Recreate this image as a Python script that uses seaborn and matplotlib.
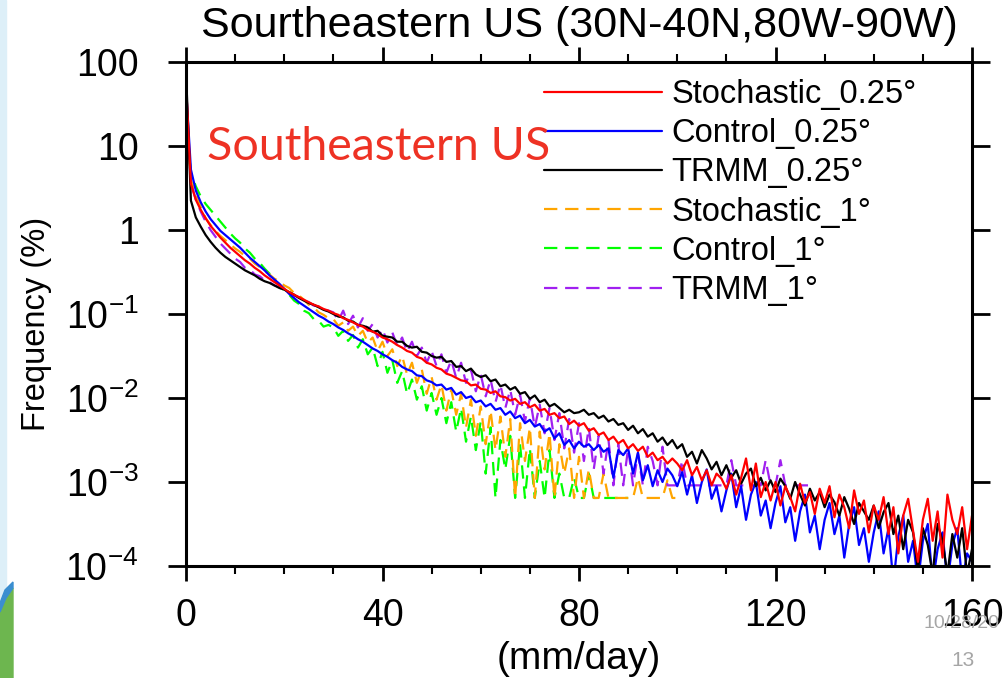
import numpy as np
import pandas as pd
import matplotlib
matplotlib.use("Agg")
import matplotlib.pyplot as plt
from matplotlib.patches import Rectangle, Polygon
from matplotlib.ticker import FixedLocator, FixedFormatter, MultipleLocator, NullLocator
import seaborn as sns

# ---------------------------------------------------------------------------
# Precipitation-rate frequency distributions, Southeastern US.
# Values are log10(frequency in %) for 1 mm/day bins starting at 0 mm/day.
# ---------------------------------------------------------------------------
stoch_025_log = [
    1.75, 0.55, 0.36, 0.24, 0.14, 0.05, -0.02, -0.09, -0.15, -0.21,
    -0.26, -0.31, -0.36, -0.40, -0.45, -0.49, -0.54, -0.58, -0.62, -0.66,
    -0.70, -0.74, -0.77, -0.80, -0.83, -0.86, -0.89, -0.91, -0.94, -0.96,
    -0.99, -1.01, -1.05, -1.07, -1.10, -1.13, -1.15, -1.19, -1.21, -1.24,
    -1.28, -1.30, -1.33, -1.37, -1.40, -1.44, -1.46, -1.51, -1.53, -1.58,
    -1.60, -1.64, -1.66, -1.71, -1.73, -1.76, -1.79, -1.80, -1.85, -1.84,
    -1.89, -1.90, -1.94, -1.92, -1.98, -1.99, -2.03, -2.01, -2.07, -2.05,
    -2.11, -2.08, -2.15, -2.13, -2.20, -2.18, -2.24, -2.22, -2.31, -2.27,
    -2.33, -2.30, -2.39, -2.36, -2.44, -2.41, -2.50, -2.46, -2.54, -2.50,
    -2.60, -2.55, -2.63, -2.58, -2.70, -2.65, -2.74, -2.70, -2.78, -2.72,
    -2.78, -2.86, -2.74, -2.92, -2.82, -2.98, -2.86, -3.04, -2.90, -2.96,
    -3.08, -2.92, -3.15, -2.95, -2.72, -3.10, -2.78, -3.18, -3.00, -3.22,
    -3.00, -3.28, -3.05, -3.18, -3.35, -3.02, -3.25, -3.12, -3.38, -3.08,
    -3.25, -3.05, -3.42, -3.15, -3.30, -3.55, -3.10, -3.38, -3.22, -3.60,
    -3.28, -3.45, -3.18, -3.62, -3.30, -3.85, -3.40, -3.20, -3.58, -3.95,
    -3.45, -3.20, -3.70, -3.35, -3.90, -3.15, -3.45, -3.62, -3.30, -3.80,
    -3.40,
]

control_025_log = [
    1.70, 0.72, 0.47, 0.33, 0.22, 0.13, 0.06, -0.01, -0.06, -0.11,
    -0.16, -0.21, -0.27, -0.33, -0.38, -0.43, -0.48, -0.54, -0.59, -0.64,
    -0.70, -0.76, -0.81, -0.86, -0.90, -0.94, -0.98, -1.02, -1.05, -1.09,
    -1.12, -1.16, -1.19, -1.23, -1.26, -1.30, -1.33, -1.37, -1.41, -1.44,
    -1.48, -1.51, -1.55, -1.58, -1.63, -1.66, -1.68, -1.73, -1.74, -1.79,
    -1.81, -1.85, -1.84, -1.90, -1.88, -1.96, -1.93, -2.00, -1.98, -2.05,
    -2.03, -2.10, -2.07, -2.14, -2.12, -2.20, -2.16, -2.24, -2.21, -2.30,
    -2.26, -2.34, -2.31, -2.40, -2.36, -2.48, -2.42, -2.56, -2.50, -2.60,
    -2.52, -2.58, -2.55, -2.62, -2.56, -2.64, -2.60, -2.95, -2.62, -2.68,
    -2.60, -2.90, -2.65, -2.98, -2.80, -3.05, -2.86, -3.00, -2.84, -2.92,
    -3.05, -2.88, -3.15, -2.92, -3.25, -3.00, -2.85, -3.20, -3.05, -3.35,
    -3.10, -2.90, -3.30, -3.05, -3.45, -3.15, -3.00, -3.40, -3.22, -3.55,
    -3.25, -3.05, -3.48, -3.30, -3.70, -3.35, -3.15, -3.60, -3.40, -3.80,
    -3.45, -3.25, -3.62, -3.40, -3.90, -3.50, -3.30, -3.75, -3.55, -3.95,
    -3.60, -3.35, -3.85, -3.55, -4.20, -3.65, -3.40, -3.95, -3.70, -4.20,
    -3.70, -3.50, -4.20, -3.80, -3.60, -4.20, -3.75, -3.55, -4.20, -3.85,
    -3.95,
]

trmm_025_log = [
    1.90, 0.35, 0.15, 0.04, -0.06, -0.14, -0.21, -0.27, -0.32, -0.36,
    -0.40, -0.44, -0.48, -0.51, -0.54, -0.58, -0.61, -0.63, -0.66, -0.69,
    -0.71, -0.74, -0.77, -0.81, -0.84, -0.87, -0.89, -0.92, -0.95, -0.97,
    -1.00, -1.03, -1.04, -1.08, -1.09, -1.13, -1.14, -1.16, -1.21, -1.20,
    -1.26, -1.27, -1.28, -1.33, -1.33, -1.38, -1.40, -1.39, -1.45, -1.46,
    -1.50, -1.52, -1.51, -1.57, -1.56, -1.63, -1.62, -1.68, -1.65, -1.72,
    -1.75, -1.73, -1.80, -1.78, -1.86, -1.84, -1.90, -1.87, -1.95, -1.93,
    -2.01, -1.97, -2.05, -2.02, -2.10, -2.07, -2.12, -2.17, -2.14, -2.18,
    -2.17, -2.14, -2.20, -2.18, -2.24, -2.21, -2.28, -2.25, -2.32, -2.30,
    -2.38, -2.33, -2.42, -2.37, -2.46, -2.42, -2.52, -2.47, -2.56, -2.50,
    -2.60, -2.55, -2.70, -2.64, -2.78, -2.62, -2.72, -2.85, -2.76, -2.92,
    -2.80, -2.95, -2.86, -3.02, -2.90, -2.84, -3.05, -2.95, -3.10, -2.98,
    -3.12, -2.96, -3.05, -3.20, -3.00, -3.15, -3.28, -3.08, -3.22, -3.12,
    -3.30, -3.15, -3.24, -3.40, -3.18, -3.32, -3.50, -3.25, -3.35, -3.45,
    -3.28, -3.55, -3.36, -3.25, -3.62, -3.40, -3.80, -3.45, -3.60, -4.05,
    -3.55, -3.75, -4.10, -3.50, -3.70, -4.10, -3.62, -3.90, -3.55, -4.10,
    -3.80,
]

stoch_1_log = [
    1.40, 0.60, 0.42, 0.27, 0.14, 0.06, -0.01, -0.07, -0.12, -0.17,
    -0.22, -0.26, -0.31, -0.34, -0.40, -0.44, -0.49, -0.53, -0.58, -0.61,
    -0.66, -0.69, -0.75, -0.78, -0.83, -0.89, -0.92, -0.98, -1.01, -1.05,
    -1.06, -1.14, -1.10, -1.20, -1.15, -1.26, -1.20, -1.34, -1.28, -1.44,
    -1.33, -1.50, -1.42, -1.62, -1.50, -1.72, -1.58, -1.82, -1.66, -1.95,
    -1.75, -2.02, -1.84, -2.15, -1.90, -2.20, -1.95, -2.35, -2.02, -2.45,
    -2.10, -2.55, -2.15, -2.62, -2.22, -2.70, -2.25, -3.19, -2.30, -2.75,
    -2.35, -3.19, -2.40, -2.85, -2.42, -3.19, -2.55, -2.90, -2.60, -3.19,
    -2.70, -3.19, -2.85, -3.19, -3.19, -2.90, -3.19, -3.19, -3.19, -3.19,
    -3.19, -3.19, -2.95, -3.19, -3.19, -3.19, -3.19, -3.19, -2.98, -3.19,
    -3.19, -3.19,
]

control_1_log = [
    1.30, 0.68, 0.52, 0.40, 0.31, 0.24, 0.17, 0.10, 0.03, -0.04,
    -0.10, -0.15, -0.22, -0.27, -0.34, -0.39, -0.46, -0.52, -0.60, -0.65,
    -0.72, -0.77, -0.84, -0.88, -0.96, -0.99, -1.06, -1.08, -1.15, -1.13,
    -1.16, -1.26, -1.20, -1.32, -1.25, -1.40, -1.30, -1.48, -1.40, -1.62,
    -1.45, -1.70, -1.55, -1.82, -1.68, -1.95, -1.78, -2.02, -1.86, -2.15,
    -1.94, -2.20, -2.00, -2.30, -2.05, -2.40, -2.12, -2.52, -2.22, -2.62,
    -2.28, -2.90, -2.35, -3.19, -2.50, -2.85, -2.45, -3.19, -2.55, -3.19,
    -2.60, -3.19, -2.75, -3.19, -2.62, -3.19, -2.90, -3.19, -3.19, -2.95,
    -3.19, -3.19, -2.90, -3.19, -3.19, -3.19, -3.19, -3.19, -3.19, -3.19,
    -3.19,
]

trmm_1_log = [
    1.50, 0.56, 0.36, 0.22, 0.10, 0.00, -0.08, -0.16, -0.22, -0.28,
    -0.34, -0.38, -0.45, -0.47, -0.53, -0.55, -0.60, -0.62, -0.66, -0.68,
    -0.72, -0.74, -0.78, -0.80, -0.84, -0.86, -0.90, -0.91, -0.95, -0.96,
    -0.98, -1.08, -0.96, -1.12, -1.02, -1.16, -1.05, -1.20, -1.12, -1.28,
    -1.18, -1.34, -1.22, -1.38, -1.28, -1.45, -1.33, -1.50, -1.40, -1.58,
    -1.44, -1.62, -1.48, -1.70, -1.55, -1.76, -1.58, -1.82, -1.66, -1.92,
    -1.72, -1.98, -1.78, -2.05, -1.84, -2.12, -1.90, -2.20, -1.96, -2.28,
    -2.00, -2.35, -2.08, -2.42, -2.12, -2.50, -2.18, -2.60, -2.25, -2.65,
    -2.30, -2.75, -2.35, -2.85, -2.45, -2.90, -2.50, -3.04, -2.55, -3.04,
    -2.60, -3.04, -2.66, -3.04, -2.58, -2.75, -3.04, -2.58, -3.04, -3.04,
    -3.04, -2.74, -3.04, -3.04, -3.04, -3.04, -3.04, -3.04, -3.04, -3.04,
    -3.04, -2.74, -3.04, -3.04, -3.04, -3.04, -3.04, -3.04, -2.74, -3.04,
    -3.04, -2.74, -3.04, -3.04, -3.04, -3.04, -3.04, -3.04,
]

series_names = ["Stochastic_0.25°", "Control_0.25°", "TRMM_0.25°",
                "Stochastic_1°", "Control_1°", "TRMM_1°"]
series_logs = [stoch_025_log, control_025_log, trmm_025_log,
               stoch_1_log, control_1_log, trmm_1_log]
series_colors = ["#FF0000", "#0000FF", "#000000", "#FFA500", "#00FF00", "#A020F0"]
series_dashed = [False, False, False, True, True, True]

xtick_values = [0, 40, 80, 120, 160]
ytick_values = [1e-4, 1e-3, 1e-2, 1e-1, 1, 10, 100]
ytick_labels = ["10$^{-4}$", "10$^{-3}$", "10$^{-2}$", "10$^{-1}$", "1", "10", "100"]

title_text = "Sourtheastern US (30N-40N,80W-90W)"
region_text = "Southeastern US"

# long-form table for seaborn
frames = []
for name, logs in zip(series_names, series_logs):
    logs = np.asarray(logs, dtype=float)
    frames.append(pd.DataFrame({"rate": np.arange(len(logs)),
                                "freq": 10.0 ** logs,
                                "series": name}))
df = pd.concat(frames, ignore_index=True)

# ---------------------------------------------------------------------------
sns.set_style("ticks")
plt.rcParams["font.family"] = ["Liberation Sans", "DejaVu Sans"]
plt.rcParams["text.color"] = "black"
plt.rcParams["axes.labelcolor"] = "black"
plt.rcParams["xtick.color"] = "black"
plt.rcParams["ytick.color"] = "black"
plt.rcParams["axes.edgecolor"] = "black"
plt.rcParams["mathtext.fontset"] = "custom"
plt.rcParams["mathtext.rm"] = "Liberation Sans"
plt.rcParams["mathtext.it"] = "Liberation Sans:italic"
plt.rcParams["mathtext.bf"] = "Liberation Sans:bold"
plt.rcParams["mathtext.default"] = "regular"

fig = plt.figure(figsize=(10.05, 6.78), dpi=100)
ax = fig.add_axes([186 / 1005, 1 - 566 / 678, 786 / 1005, 504 / 678])

style = {n: (c, d) for n, c, d in zip(series_names, series_colors, series_dashed)}
draw_order = ["Control_1°", "Stochastic_1°", "TRMM_1°",
              "Control_0.25°", "TRMM_0.25°", "Stochastic_0.25°"]
for name in draw_order:
    color, dashed = style[name]
    sub = df[df["series"] == name]
    sns.lineplot(data=sub, x="rate", y="freq", ax=ax, color=color,
                 linewidth=1.6, estimator=None, sort=False, label=name,
                 linestyle=(0, (6, 3.5)) if dashed else "-")

ax.set_yscale("log")
ax.set_xlim(0, 160)
ax.set_ylim(1e-4, 100)

ax.xaxis.set_major_locator(FixedLocator(xtick_values))
ax.xaxis.set_minor_locator(MultipleLocator(10))
ax.yaxis.set_major_locator(FixedLocator(ytick_values))
ax.yaxis.set_major_formatter(FixedFormatter(ytick_labels))
ax.yaxis.set_minor_locator(NullLocator())

ax.tick_params(which="both", direction="out", top=True, right=True,
               labeltop=False, labelright=False, colors="black")
ax.tick_params(axis="x", which="major", length=11, width=2.0, labelsize=27, pad=12)
ax.tick_params(axis="x", which="minor", length=5.5, width=1.5)
ax.tick_params(axis="y", which="major", length=13, width=2.0, labelsize=27, pad=21)

for sp in ax.spines.values():
    sp.set_linewidth(2.2)
    sp.set_color("black")

ax.set_xlabel("(mm/day)", fontsize=28, labelpad=5)
ax.set_ylabel("Frequency (%)", fontsize=23.5)
ax.yaxis.set_label_coords(-0.170, 0.48)
ax.set_title(title_text, fontsize=31, pad=18)

# legend in the upper right part of the plot
h, l = ax.get_legend_handles_labels()
lookup = dict(zip(l, h))
ax.legend([lookup[n] for n in series_names], series_names,
          loc="upper left", bbox_to_anchor=(0.4555, 0.966),
          frameon=False, fontsize=23.5, handlelength=3.6, handletextpad=0.3,
          labelspacing=0.25, borderpad=0, borderaxespad=0)

# region caption
fig.text(207 / 1005, 1 - 160 / 678, region_text, fontsize=33.5,
         family=["Lato", "DejaVu Sans"], color="#EE3224", va="baseline", ha="left")

# slide footer
fig.text(961 / 1005, 1 - 623 / 678, "10/28/20", fontsize=14, color="#A6A6A6",
         ha="center", va="center")
fig.text(963 / 1005, 1 - 660 / 678, "13", fontsize=15, color="#A6A6A6",
         ha="center", va="center")

# slide edge decoration
W, H = 1005.0, 678.0
fig.patches.append(Rectangle((0, 0), 6 / W, 1, transform=fig.transFigure,
                             color="#DDEFF8", zorder=-5))
fig.patches.append(Polygon([(0, 0), (0, 1 - 612 / H), (6 / W, 1 - 598 / H),
                            (13 / W, 1 - 588 / H), (13 / W, 0)],
                           closed=True, transform=fig.transFigure,
                           color="#6DB64F", zorder=-4))
fig.patches.append(Polygon([(0, 1 - 612 / H), (6 / W, 1 - 598 / H),
                            (13 / W, 1 - 588 / H), (13 / W, 1 - 582 / H),
                            (5 / W, 1 - 590 / H), (0, 1 - 603 / H)],
                           closed=True, transform=fig.transFigure,
                           color="#3B8ED0", zorder=-4))

fig.savefig("out.png", dpi=100)
